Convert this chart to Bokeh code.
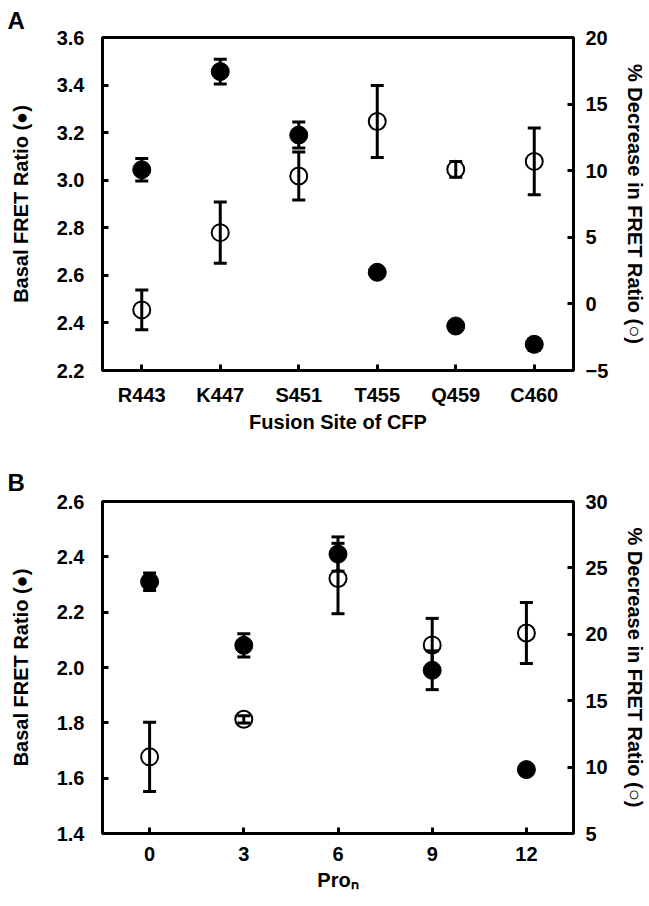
from bokeh.plotting import figure
from bokeh.models import (Range1d, FactorRange, LinearAxis, FixedTicker,
                          NumeralTickFormatter)
from bokeh.layouts import column
from bokeh.embed import file_html
from bokeh.resources import INLINE

# ---------------- data ----------------
sites = ["R443", "K447", "S451", "T455", "Q459", "C460"]
a_basal = [3.044, 3.457, 3.19, 2.613, 2.387, 2.31]
a_basal_err = [0.047, 0.052, 0.055, 0.012, 0.012, 0.025]
a_decrease = [-0.45, 5.35, 9.6, 13.7, 10.1, 10.7]
a_decrease_err = [1.5, 2.3, 1.8, 2.7, 0.6, 2.5]

pro_n = [0, 3, 6, 9, 12]
b_basal = [2.31, 2.08, 2.41, 1.99, 1.631]
b_basal_err = [0.032, 0.042, 0.062, 0.07, 0.01]
b_decrease = [10.77, 13.6, 24.2, 19.2, 20.1]
b_decrease_err = [2.6, 0.27, 2.65, 2.0, 2.3]

a_left_ticks = [2.2, 2.4, 2.6, 2.8, 3.0, 3.2, 3.4, 3.6]
a_right_ticks = [-5, 0, 5, 10, 15, 20]
b_left_ticks = [1.4, 1.6, 1.8, 2.0, 2.2, 2.4, 2.6]
b_right_ticks = [5, 10, 15, 20, 25, 30]
b_x_ticks = [0, 3, 6, 9, 12]

FONT = "Liberation Sans"
W = 649
LEFT = 102
FRAME_W = 474


def style_axis(ax, standoff):
    ax.axis_line_width = 3
    ax.axis_line_color = "black"
    ax.major_tick_in = 6
    ax.major_tick_out = 0
    ax.major_tick_line_width = 3
    ax.major_tick_line_color = "black"
    ax.minor_tick_line_color = None
    ax.major_label_text_font = FONT
    ax.major_label_text_font_style = "bold"
    ax.major_label_text_font_size = "20px"
    ax.major_label_text_color = "black"
    ax.major_label_standoff = standoff
    ax.axis_label_text_font = FONT
    ax.axis_label_text_font_style = "bold"
    ax.axis_label_text_font_size = "20px"
    ax.axis_label_text_color = "black"


def base_fig(x_range, y_range, right_range, height, top, bottom, letter, letter_standoff):
    p = figure(width=W, height=height, x_range=x_range, y_range=y_range,
               output_backend="svg", toolbar_location=None, title=letter,
               min_border_left=LEFT, min_border_right=W - LEFT - FRAME_W,
               min_border_top=top, min_border_bottom=bottom)
    p.extra_y_ranges = {"r": right_range}
    p.xgrid.visible = False
    p.ygrid.visible = False
    p.outline_line_color = "black"
    p.outline_line_width = 3
    p.background_fill_color = "white"
    p.border_fill_color = "white"
    p.title.align = "left"
    p.title.offset = -95
    p.title.standoff = letter_standoff
    p.title.text_font = FONT
    p.title.text_font_style = "bold"
    p.title.text_font_size = "24px"
    p.title.text_color = "black"
    return p


def draw_series(p, xs, vals, errs, filled, range_name=None):
    kw = {} if range_name is None else {"y_range_name": range_name}
    lo = [v - e for v, e in zip(vals, errs)]
    hi = [v + e for v, e in zip(vals, errs)]
    p.segment(x0=xs, y0=lo, x1=xs, y1=hi, line_width=3, line_color="black", **kw)
    p.scatter(xs, lo, marker="dash", size=13, line_width=3, line_color="black", **kw)
    p.scatter(xs, hi, marker="dash", size=13, line_width=3, line_color="black", **kw)
    if filled:
        p.scatter(xs, vals, marker="circle", size=18, fill_color="black",
                  line_color="black", line_width=1, **kw)
    else:
        p.scatter(xs, vals, marker="circle", size=17, fill_color=None,
                  line_color="black", line_width=2, **kw)


def add_axes(p, left_ticks, right_ticks, right_name):
    style_axis(p.yaxis[0], 18)
    p.yaxis[0].ticker = FixedTicker(ticks=left_ticks)
    p.yaxis[0].formatter = NumeralTickFormatter(format="0.0")
    p.yaxis[0].axis_label = "Basal FRET Ratio (\u25cf)"
    p.yaxis[0].axis_label_standoff = 22
    ax = LinearAxis(y_range_name=right_name, ticker=FixedTicker(ticks=right_ticks))
    style_axis(ax, 12)
    ax.axis_label = "% Decrease in FRET Ratio (\u25cb)"
    ax.axis_label_standoff = 13
    p.add_layout(ax, "right")


# ---------------- panel A ----------------
pA = base_fig(FactorRange(*sites, range_padding=0), Range1d(2.2, 3.6),
              Range1d(-5, 20), 453, 35, 83, "A", 8)
draw_series(pA, sites, a_decrease, a_decrease_err, False, "r")
draw_series(pA, sites, a_basal, a_basal_err, True)
style_axis(pA.xaxis[0], 13)
pA.xaxis[0].axis_label = "Fusion Site of CFP"
pA.xaxis[0].axis_label_standoff = 2
add_axes(pA, a_left_ticks, a_right_ticks, "r")

# ---------------- panel B ----------------
pB = base_fig(Range1d(-1.5, 13.5), Range1d(1.4, 2.6), Range1d(5, 30),
              453, 48, 73, "B", 12)
draw_series(pB, pro_n, b_decrease, b_decrease_err, False, "r")
draw_series(pB, pro_n, b_basal, b_basal_err, True)
style_axis(pB.xaxis[0], 13)
pB.xaxis[0].ticker = FixedTicker(ticks=b_x_ticks)
pB.xaxis[0].axis_label = "Pro\u2099"
pB.xaxis[0].axis_label_standoff = 5
add_axes(pB, b_left_ticks, b_right_ticks, "r")

layout = column(pA, pB, spacing=0)
open("out.html", "w").write(file_html(layout, INLINE))
